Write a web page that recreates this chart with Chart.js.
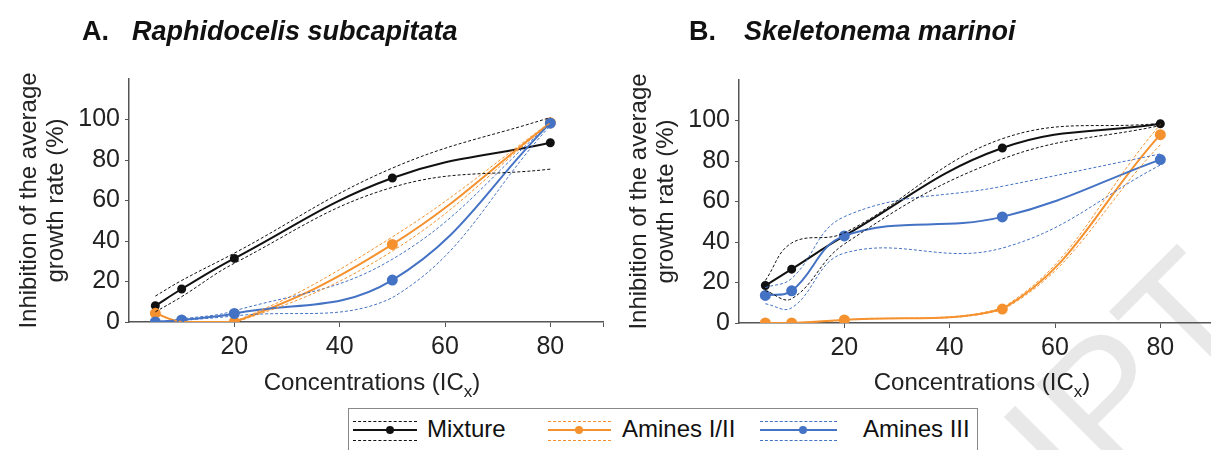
<!DOCTYPE html>
<html>
<head>
<meta charset="utf-8">
<script src="https://cdn.jsdelivr.net/npm/chart.js@4.4.1/dist/chart.umd.min.js"></script>
<style>
  html, body { margin: 0; padding: 0; background: #fff; overflow: hidden; }
  body { width: 1211px; height: 450px; position: relative; font-family: 'Liberation Sans', Arial, sans-serif; }
  canvas { position: absolute; top: 0; }
  #chartA { left: 0; }
  #chartB { left: 610px; }
  #watermark {
    position: absolute; right: -70px; top: 172px; height: 170px; font-size: 170px; line-height: 1;
    color: #e8e8e8; white-space: nowrap; transform: rotate(-45deg); transform-origin: right bottom;
  }
  #legend {
    position: absolute; left: 348px; top: 408px; width: 628px; height: 60px;
    border: 1px solid #888; background: #fff;
  }
  .sample { position: absolute; top: 0; height: 44px; }
  .sample i { position: absolute; left: 0; right: 0; display: block; }
  .sample .dash { border-top: 1px dashed; height: 0; }
  .sample .t { top: 12px; }
  .sample .b { top: 31px; }
  .sample .solid { top: 20px; height: 2px; }
  .sample .dot { width: 8px; height: 8px; border-radius: 50%; top: 17px; right: auto; }
  .label { position: absolute; top: 6px; font-size: 24px; color: #111; white-space: nowrap; }
</style>
</head>
<body>
<div id="watermark">ACCEPTED MANUSCRIPT</div>
<canvas id="chartA" width="610" height="400"></canvas>
<canvas id="chartB" width="610" height="400"></canvas>
<div id="legend"></div>
<script>
// concentrations (IC x) tested
var concentrations = [5, 10, 20, 50, 80];
var xTicks = [20, 40, 60, 80, 90];
var yTicks = [0, 20, 40, 60, 80, 100];

// A. Raphidocelis subcapitata
var aMixture      = [8, 16.3, 31.4, 71.1, 88.5];
var aMixtureUp    = [12.8, 20.5, 34, 76, 101];
var aMixtureLo    = [5, 12.5, 29, 66.5, 75.5];
var aAminesI      = [4.3, 0, 0, 38.3, 98.4];
var aAminesIUp    = [4.3, 0.3, 0.3, 42, 98.6];
var aAminesILo    = [4.3, 0, -0.3, 35, 98.2];
var aAminesIII    = [0, 1, 4.2, 20.7, 98.2];
var aAminesIIIUp  = [0, 1.5, 5.5, 31, 98];
var aAminesIIILo  = [0, 0.8, 3, 12, 97];

// B. Skeletonema marinoi
var bMixture      = [18.5, 26.6, 43, 86.4, 98.4];
var bMixtureUp    = [21, 39.5, 44.5, 91, 98.6];
var bMixtureLo    = [16, 12, 39, 81, 97.5];
var bAminesI      = [0, 0, 1.5, 6.9, 93];
var bAminesIUp    = [0, 0, 1.5, 7.5, 98];
var bAminesILo    = [0, 0, 1.5, 6.5, 88];
var bAminesIII    = [13.6, 15.9, 43, 52.4, 80.7];
var bAminesIIIUp  = [17.5, 22, 52.5, 67.5, 83.5];
var bAminesIIILo  = [9.5, 7.5, 34.5, 37, 78];

var black = '#111111';
var orange = '#f5922f';
var blue = '#4472c4';

Chart.defaults.font.family = "'Liberation Sans', Arial, sans-serif";
Chart.defaults.color = '#222';

function pts(ys) {
    return concentrations.map(function(x, i) { return {x: x, y: ys[i]}; });
}

function band(ys, color) {
    return {data: pts(ys), borderColor: color, borderWidth: 1, borderDash: [3, 2],
            pointRadius: 0, tension: 0.4, fill: false};
}
function main(ys, color, r) {
    return {data: pts(ys), borderColor: color, backgroundColor: color, borderWidth: 2,
            pointRadius: r, pointHoverRadius: r, tension: 0.4, fill: false};
}

// panel title + x title with subscript
var textPlugin = {
    id: 'panelText',
    afterDraw: function(chart) {
        var o = chart.options.plugins.panelText;
        var ctx = chart.ctx;
        var fam = "'Liberation Sans', Arial, sans-serif";
        ctx.save();
        ctx.fillStyle = '#111';
        ctx.textBaseline = 'alphabetic';
        ctx.font = 'bold 27px ' + fam;
        ctx.fillText(o.letter, o.letterX, 40);
        ctx.font = 'italic bold 27px ' + fam;
        ctx.fillText(o.species, o.speciesX, 40);

        var a = chart.chartArea;
        ctx.fillStyle = '#222';
        ctx.font = '24px ' + fam;
        var t1 = 'Concentrations (IC';
        var w1 = ctx.measureText(t1).width;
        ctx.font = '17px ' + fam;
        var ws = ctx.measureText('x').width;
        ctx.font = '24px ' + fam;
        var w3 = ctx.measureText(')').width;
        var cx = (a.left + a.right) / 2 + 6;
        var x0 = cx - (w1 + ws + w3) / 2;
        ctx.fillText(t1, x0, 390);
        ctx.font = '17px ' + fam;
        ctx.fillText('x', x0 + w1, 397);
        ctx.font = '24px ' + fam;
        ctx.fillText(')', x0 + w1 + ws, 390);
        ctx.restore();
    }
};

function renderChart(id, sets, letter, species, letterX, speciesX, top, xh) {
    var ctx = document.getElementById(id);
    return new Chart(ctx, {
        type: 'line',
        data: {
            datasets: [
                band(sets[0][1], black), band(sets[0][2], black),
                band(sets[1][1], orange), band(sets[1][2], orange),
                band(sets[2][1], blue), band(sets[2][2], blue),
                main(sets[2][0], blue, 4.5),
                main(sets[1][0], orange, 4.5),
                main(sets[0][0], black, 3.5)
            ]
        },
        options: {
            responsive: false,
            animation: false,
            devicePixelRatio: 1,
            layout: {padding: {top: top, right: 7, left: 0, bottom: 0}},
            plugins: {
                legend: {display: false},
                tooltip: {enabled: false},
                panelText: {letter: letter, species: species, letterX: letterX, speciesX: speciesX}
            },
            scales: {
                x: {
                    type: 'linear', min: 0, max: 90,
                    afterBuildTicks: function(s) { s.ticks = xTicks.map(function(v) { return {value: v}; }); },
                    afterFit: function(s) { s.height = xh; },
                    ticks: {
                        padding: 5, font: {size: 25}, color: '#222', maxRotation: 0,
                        callback: function(v) { return v === 90 ? '' : v; }
                    },
                    grid: {drawOnChartArea: false, drawTicks: true, tickLength: 5, color: '#555'},
                    border: {display: true, color: '#555', width: 1.5}
                },
                y: {
                    type: 'linear', min: 0, max: 120,
                    afterBuildTicks: function(s) { s.ticks = yTicks.map(function(v) { return {value: v}; }); },
                    afterFit: function(s) { s.width = 129; },
                    ticks: {padding: 5, font: {size: 25}, color: '#222'},
                    grid: {drawOnChartArea: false, drawTicks: true, tickLength: 4, color: '#555'},
                    border: {display: true, color: '#555', width: 1.5},
                    title: {
                        display: true,
                        text: ['Inhibition of the average', 'growth rate (%)'],
                        font: {size: 24, lineHeight: 1.125},
                        color: '#222',
                        padding: {top: 16, bottom: 0}
                    }
                }
            }
        },
        plugins: [textPlugin]
    });
}

renderChart('chartA', [
    [aMixture, aMixtureUp, aMixtureLo],
    [aAminesI, aAminesIUp, aAminesILo],
    [aAminesIII, aAminesIIIUp, aAminesIIILo]
], 'A.', 'Raphidocelis subcapitata', 82, 132, 79, 78);

renderChart('chartB', [
    [bMixture, bMixtureUp, bMixtureLo],
    [bAminesI, bAminesIUp, bAminesILo],
    [bAminesIII, bAminesIIIUp, bAminesIIILo]
], 'B.', 'Skeletonema marinoi', 79, 134, 80, 77);

// legend
var legendItems = [
    {name: 'Mixture', color: black, sx: 4, sw: 64, dot: 33, lx: 78},
    {name: 'Amines I/II', color: orange, sx: 199, sw: 63, dot: 27, lx: 273},
    {name: 'Amines III', color: blue, sx: 411, sw: 77, dot: 39, lx: 514}
];
var lg = document.getElementById('legend');
legendItems.forEach(function(it) {
    var s = document.createElement('div');
    s.className = 'sample';
    s.style.left = it.sx + 'px';
    s.style.width = it.sw + 'px';
    s.innerHTML = '<i class="dash t" style="color:' + it.color + '"></i>' +
                  '<i class="solid" style="background:' + it.color + '"></i>' +
                  '<i class="dot" style="background:' + it.color + ';left:' + it.dot + 'px"></i>' +
                  '<i class="dash b" style="color:' + it.color + '"></i>';
    lg.appendChild(s);
    var l = document.createElement('span');
    l.className = 'label';
    l.style.left = it.lx + 'px';
    l.textContent = it.name;
    lg.appendChild(l);
});
</script>
</body>
</html>
